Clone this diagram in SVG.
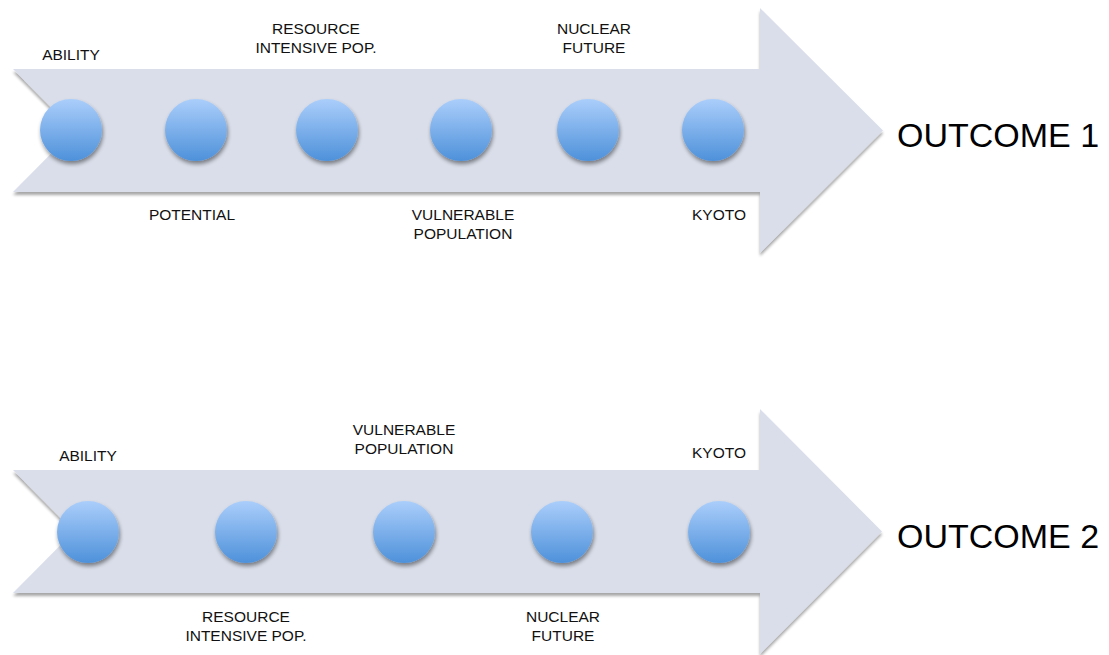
<svg xmlns="http://www.w3.org/2000/svg" width="1109" height="655" viewBox="0 0 1109 655">
  <defs>
    <linearGradient id="ballGrad" x1="0" y1="0" x2="0" y2="1">
      <stop offset="0" stop-color="#ABCEFB"/>
      <stop offset="1" stop-color="#4E91DA"/>
    </linearGradient>
    <filter id="arrowShadow" x="-5%" y="-10%" width="110%" height="125%">
      <feGaussianBlur in="SourceAlpha" stdDeviation="1.5"/>
      <feOffset dx="0" dy="2.5" result="b"/>
      <feComponentTransfer><feFuncA type="linear" slope="0.35"/></feComponentTransfer>
      <feMerge><feMergeNode/><feMergeNode in="SourceGraphic"/></feMerge>
    </filter>
    <filter id="ballShadow" x="-30%" y="-30%" width="160%" height="170%">
      <feGaussianBlur in="SourceAlpha" stdDeviation="2"/>
      <feOffset dx="1" dy="2.5" result="b"/>
      <feComponentTransfer><feFuncA type="linear" slope="0.45"/></feComponentTransfer>
      <feMerge><feMergeNode/><feMergeNode in="SourceGraphic"/></feMerge>
    </filter>
  </defs>
  <style>
    .arrow { fill: #D9DEEA; filter: url(#arrowShadow); }
    .ball { fill: url(#ballGrad); filter: url(#ballShadow); }
    .lbl { font-family: "Liberation Sans", Arial, sans-serif; font-size: 15.5px; fill: #111; text-anchor: middle; }
    .out { font-family: "Liberation Sans", Arial, sans-serif; font-size: 34px; fill: #000; }
  </style>

  <g id="arrow1">
    <polygon class="arrow" points="13,69 760,69 760,8 883,130.5 760,253 760,192 13,192 74,130.5"/>
  </g>
  <g id="arrow2">
    <polygon class="arrow" points="13,470 760,470 760,409 882,531.5 760,654 760,593 13,593 74,531.5"/>
  </g>

  <g id="connectors"></g>

  <!-- Row 1 -->
  <g id="n1-ability">
    <circle class="ball" cx="71" cy="130" r="31"/>
    <text class="lbl" x="71" y="60">ABILITY</text>
  </g>
  <g id="n1-potential">
    <circle class="ball" cx="196" cy="130" r="31"/>
    <text class="lbl" x="192" y="220">POTENTIAL</text>
  </g>
  <g id="n1-resource">
    <circle class="ball" cx="327" cy="130" r="31"/>
    <text class="lbl" x="316" y="34">RESOURCE</text>
    <text class="lbl" x="316" y="53">INTENSIVE POP.</text>
  </g>
  <g id="n1-vulnerable">
    <circle class="ball" cx="461" cy="130" r="31"/>
    <text class="lbl" x="463" y="220">VULNERABLE</text>
    <text class="lbl" x="463" y="239">POPULATION</text>
  </g>
  <g id="n1-nuclear">
    <circle class="ball" cx="588" cy="130" r="31"/>
    <text class="lbl" x="594" y="34">NUCLEAR</text>
    <text class="lbl" x="594" y="53">FUTURE</text>
  </g>
  <g id="n1-kyoto">
    <circle class="ball" cx="713" cy="130" r="31"/>
    <text class="lbl" x="719" y="220">KYOTO</text>
  </g>
  <g id="outcome1">
    <text class="out" x="897" y="147">OUTCOME 1</text>
  </g>

  <!-- Row 2 -->
  <g id="n2-ability">
    <circle class="ball" cx="88" cy="532" r="31"/>
    <text class="lbl" x="88" y="461">ABILITY</text>
  </g>
  <g id="n2-resource">
    <circle class="ball" cx="246" cy="532" r="31"/>
    <text class="lbl" x="246" y="622">RESOURCE</text>
    <text class="lbl" x="246" y="641">INTENSIVE POP.</text>
  </g>
  <g id="n2-vulnerable">
    <circle class="ball" cx="404" cy="532" r="31"/>
    <text class="lbl" x="404" y="435">VULNERABLE</text>
    <text class="lbl" x="404" y="454">POPULATION</text>
  </g>
  <g id="n2-nuclear">
    <circle class="ball" cx="562" cy="532" r="31"/>
    <text class="lbl" x="563" y="622">NUCLEAR</text>
    <text class="lbl" x="563" y="641">FUTURE</text>
  </g>
  <g id="n2-kyoto">
    <circle class="ball" cx="719" cy="532" r="31"/>
    <text class="lbl" x="719" y="458">KYOTO</text>
  </g>
  <g id="outcome2">
    <text class="out" x="897" y="548">OUTCOME 2</text>
  </g>
</svg>
